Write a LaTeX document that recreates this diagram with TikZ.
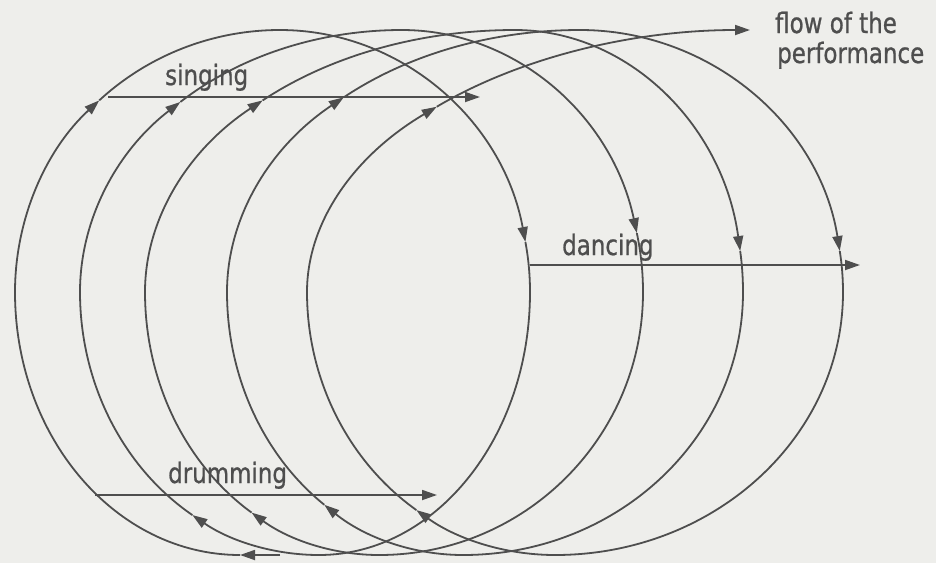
\documentclass[tikz,border=0pt]{standalone}
\usepackage{fontspec}
\newfontfamily\lblfont{DejaVu Sans}[FakeStretch=0.82,FakeBold=0.8]
\usetikzlibrary{arrows.meta}
\definecolor{bg}{RGB}{238,238,235}
\definecolor{ink}{RGB}{78,78,78}
\begin{document}
\begin{tikzpicture}[x=1pt,y=-1pt,
  line/.style={draw=ink,line width=1.8pt},
  tip/.style={-{Triangle[length=15pt,width=10pt]}},
  lbl/.style={text=ink,font=\lblfont\fontsize{28}{34}\selectfont,inner sep=0pt,anchor=base west}]
\fill[bg] (0,0) rectangle (936,563);
\useasboundingbox (0,0) rectangle (936,563);

% start stub
\coordinate (s0) at (280,555);
\coordinate (b0) at (240,555);
\draw[line,tip] (s0) -- (b0);
\draw[line] (b0) arc[start angle=90,end angle=180,x radius=225,y radius=263] coordinate (l1);

% loop 1
\draw[line,tip] (l1) arc[start angle=180,end angle=227,x radius=265,y radius=262] coordinate (a1);
\draw[line] (a1) arc[start angle=227,end angle=270,x radius=265,y radius=262] coordinate (t1);
\draw[line,tip] (t1) arc[start angle=270,end angle=349,x radius=250,y radius=262] coordinate (d1);
\draw[line] (d1) arc[start angle=349,end angle=360,x radius=250,y radius=262] coordinate (r1);
\draw[line] (r1) arc[start angle=0,end angle=90,x radius=211,y radius=263] coordinate (bt1);
\draw[line,tip] (bt1) arc[start angle=90,end angle=122,x radius=239,y radius=263] coordinate (e1);
\draw[line] (e1) arc[start angle=122,end angle=180,x radius=239,y radius=263] coordinate (l2);

% loop 2
\draw[line,tip] (l2) arc[start angle=180,end angle=226.5,x radius=322,y radius=262] coordinate (a2);
\draw[line] (a2) arc[start angle=226.5,end angle=270,x radius=322,y radius=262] coordinate (t2);
\draw[line,tip] (t2) arc[start angle=270,end angle=347,x radius=241,y radius=262] coordinate (d2);
\draw[line] (d2) arc[start angle=347,end angle=360,x radius=241,y radius=262] coordinate (r2);
\draw[line] (r2) arc[start angle=0,end angle=90,x radius=264,y radius=263] coordinate (bt2);
\draw[line,tip] (bt2) arc[start angle=90,end angle=123,x radius=234,y radius=263] coordinate (e2);
\draw[line] (e2) arc[start angle=123,end angle=180,x radius=234,y radius=263] coordinate (l3);

% loop 3
\draw[line,tip] (l3) arc[start angle=180,end angle=227,x radius=370,y radius=262] coordinate (a3);
\draw[line] (a3) arc[start angle=227,end angle=270,x radius=370,y radius=262] coordinate (t3);
\draw[line,tip] (t3) arc[start angle=270,end angle=351,x radius=228,y radius=262] coordinate (d3);
\draw[line] (d3) arc[start angle=351,end angle=360,x radius=228,y radius=262] coordinate (r3);
\draw[line] (r3) arc[start angle=0,end angle=90,x radius=280,y radius=263] coordinate (bt3);
\draw[line,tip] (bt3) arc[start angle=90,end angle=126,x radius=236,y radius=263] coordinate (e3);
\draw[line] (e3) arc[start angle=126,end angle=180,x radius=236,y radius=263] coordinate (l4);

% loop 4
\draw[line,tip] (l4) arc[start angle=180,end angle=228,x radius=353,y radius=262] coordinate (a4);
\draw[line] (a4) arc[start angle=228,end angle=270,x radius=353,y radius=262] coordinate (t4);
\draw[line,tip] (t4) arc[start angle=270,end angle=351,x radius=263,y radius=262] coordinate (d4);
\draw[line] (d4) arc[start angle=351,end angle=360,x radius=263,y radius=262] coordinate (r4);
\draw[line] (r4) arc[start angle=0,end angle=90,x radius=288,y radius=263] coordinate (bt4);
\draw[line,tip] (bt4) arc[start angle=90,end angle=124,x radius=248,y radius=263] coordinate (e4);
\draw[line] (e4) arc[start angle=124,end angle=180,x radius=248,y radius=263] coordinate (l5);

% loop 5: flow of the performance
\draw[line,tip] (l5) arc[start angle=180,end angle=225,x radius=443,y radius=262] coordinate (a5);
\draw[line,tip] (a5) arc[start angle=225,end angle=270,x radius=443,y radius=262] coordinate (t5);

% horizontal arrows
\coordinate (sg1) at (108,97);
\coordinate (sg2) at (480,97);
\coordinate (dc1) at (530,265);
\coordinate (dc2) at (860,265);
\coordinate (dr1) at (95,495);
\coordinate (dr2) at (437,495);
\draw[line,tip] (sg1) -- (sg2);
\draw[line,tip] (dc1) -- (dc2);
\draw[line,tip] (dr1) -- (dr2);

% labels
\node[lbl] (sing) at (165,85) {singing};
\node[lbl] (danc) at (562,255) {dancing};
\node[lbl] (drum) at (168,483) {drumming};
\node[lbl] (flow1) at (775,33) {flow of the};
\node[lbl] (flow2) at (777,63) {performance};
\end{tikzpicture}
\end{document}
